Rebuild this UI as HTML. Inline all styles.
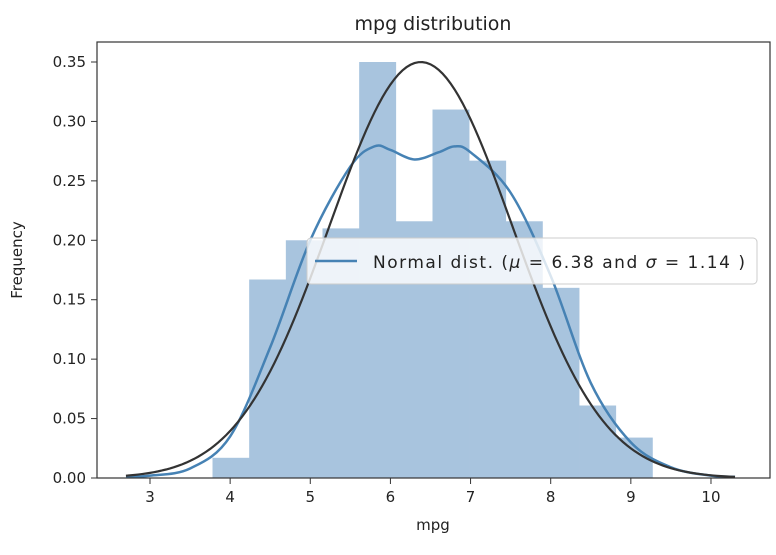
<!DOCTYPE html>
<html><head><meta charset="utf-8"><style>
body{margin:0;background:#fff;width:776px;height:550px;overflow:hidden}
text{font-family:"DejaVu Sans","Liberation Sans",sans-serif;fill:#222}
</style></head><body>
<svg id="chart" width="776" height="550">
<text x="433" y="30" font-size="19" text-anchor="middle">mpg distribution</text>
<g id="bars"></g>
<g id="lines"></g>
<rect x="97" y="42" width="673" height="436" fill="none" stroke="#333" stroke-width="1.2"/>
<g id="xt"></g>
<g id="yt"></g>
<text x="433" y="530" font-size="15" text-anchor="middle">mpg</text>
<text transform="translate(22,260) rotate(-90)" font-size="15" text-anchor="middle">Frequency</text>
<g>
<rect x="307" y="238" width="450" height="46" rx="4" fill="#fff" fill-opacity="0.8" stroke="#ccc"/>
<line x1="315" y1="261" x2="357" y2="261" stroke="#4682b4" stroke-width="2.5"/>
<text x="373" y="268" font-size="17" textLength="372" lengthAdjust="spacing">Normal dist. (<tspan font-style="italic">μ</tspan> =  6.38 and <tspan font-style="italic">σ</tspan> =  1.14 )</text>
</g>
</svg>
<script>
const binStart = 3.78;
const binWidth = 0.4575;
const binHeights = [0.017,0.167,0.200,0.210,0.350,0.216,0.310,0.267,0.216,0.160,0.061,0.034];
const kdeX = [2.7,3.0,3.5,4.0,4.5,5.0,5.5,5.8,6.0,6.3,6.6,6.8,7.0,7.5,8.0,8.5,9.0,9.5,10.0,10.3];
const kdeY = [0.001,0.002,0.008,0.035,0.11,0.20,0.262,0.279,0.276,0.268,0.274,0.279,0.274,0.24,0.17,0.08,0.03,0.009,0.002,0.001];
const mu = 6.38, sigma = 1.14;
const xTicks = [3,4,5,6,7,8,9,10];
const yTicks = [0,0.05,0.10,0.15,0.20,0.25,0.30,0.35];
const NS="http://www.w3.org/2000/svg";
const xs = v => 150 + (v-3)*80.14;
const ys = v => 478 - v*(416/0.35);
function mk(tag, attrs, parent){const e=document.createElementNS(NS,tag);for(const k in attrs)e.setAttribute(k,attrs[k]);parent.appendChild(e);return e;}
const bars=document.getElementById('bars');
binHeights.forEach((h,i)=>{
 const x0=xs(binStart+i*binWidth), x1=xs(binStart+(i+1)*binWidth);
 const r=mk('rect',{x:x0,y:ys(h),width:x1-x0+0.3,height:ys(0)-ys(h),fill:'#a8c4de'},bars);
 
 
});
const lines=document.getElementById('lines');
let pts=kdeX.map((x,i)=>[xs(x),ys(kdeY[i])]);
let d='M'+pts[0][0]+','+pts[0][1];
for(let i=0;i<pts.length-1;i++){const p0=pts[Math.max(0,i-1)],p1=pts[i],p2=pts[i+1],p3=pts[Math.min(pts.length-1,i+2)];
 d+=` C${p1[0]+(p2[0]-p0[0])/6},${p1[1]+(p2[1]-p0[1])/6} ${p2[0]-(p3[0]-p1[0])/6},${p2[1]-(p3[1]-p1[1])/6} ${p2[0]},${p2[1]}`;}
const kde=mk('path',{d:d,fill:'none',stroke:'#4682b4','stroke-width':2.5},lines);


let nd='';
for(let x=2.7;x<=10.301;x+=0.05){const y=Math.exp(-0.5*((x-mu)/sigma)**2)/(sigma*Math.sqrt(2*Math.PI));nd+=(nd?'L':'M')+xs(x)+','+ys(y);}
const norm=mk('path',{d:nd,fill:'none',stroke:'#333','stroke-width':2.2},lines);


const xt=document.getElementById('xt');
xTicks.forEach(t=>{
 const l=mk('line',{x1:xs(t),x2:xs(t),y1:478,y2:484,stroke:'#333'},xt);
 
 
 const tx=mk('text',{x:xs(t),y:502,'font-size':15,'text-anchor':'middle'},xt);tx.textContent=t;
 
 
});
const yt=document.getElementById('yt');
yTicks.forEach(t=>{
 const l=mk('line',{x1:91,x2:97,y1:ys(t),y2:ys(t),stroke:'#333'},yt);
 
 
 const tx=mk('text',{x:86,y:ys(t)+5,'font-size':15,'text-anchor':'end'},yt);tx.textContent=t.toFixed(2);
 
 
});
</script>
</body></html>
